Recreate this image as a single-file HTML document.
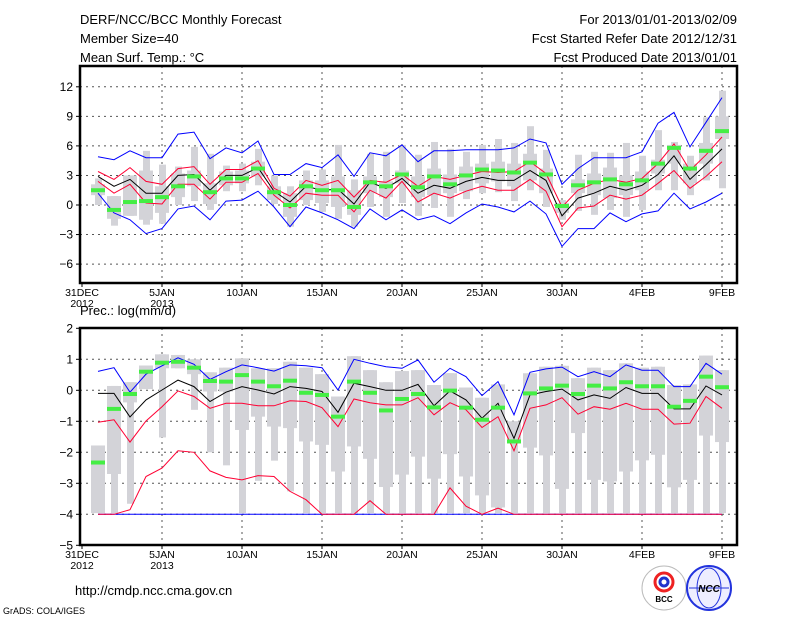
<!DOCTYPE html>
<html><head><meta charset="utf-8"><style>
body{margin:0;background:#fff;width:800px;height:618px;overflow:hidden;font-family:"Liberation Sans",sans-serif}
svg text{font-family:"Liberation Sans",sans-serif;fill:#000}
</style></head><body>
<svg id="chart" width="800" height="618" viewBox="0 0 800 618" xmlns="http://www.w3.org/2000/svg">
<text x="80" y="24" font-size="13">DERF/NCC/BCC Monthly Forecast</text>
<text x="80" y="43" font-size="13">Member Size=40</text>
<text x="80" y="62" font-size="13">Mean Surf. Temp.: °C</text>
<text x="737" y="24" font-size="13" text-anchor="end">For 2013/01/01-2013/02/09</text>
<text x="737" y="43" font-size="13" text-anchor="end">Fcst Started Refer Date 2012/12/31</text>
<text x="737" y="62" font-size="13" text-anchor="end">Fcst Produced Date 2013/01/01</text>
<text x="80" y="315" font-size="13">Prec.: log(mm/d)</text>
<text x="75" y="595" font-size="13">http://cmdp.ncc.cma.gov.cn</text>
<text x="3" y="614" font-size="9">GrADS: COLA/IGES</text>
<g><circle cx="664" cy="588" r="22" fill="#fff" stroke="#bbb"/><circle cx="664" cy="582" r="9" fill="none" stroke="#e22" stroke-width="3"/><circle cx="664" cy="582" r="4" fill="none" stroke="#23c" stroke-width="3"/><text x="664" y="602" font-size="8" text-anchor="middle" font-weight="bold">BCC</text></g>
<g><circle cx="709" cy="588" r="22" fill="#eef" stroke="#23d" stroke-width="2"/><ellipse cx="709" cy="588" rx="12" ry="20" fill="none" stroke="#23d"/><line x1="689" y1="588" x2="729" y2="588" stroke="#23d"/><text x="709" y="592" font-size="10" text-anchor="middle" fill="#23d" font-weight="bold" font-style="italic">NCC</text></g>
</svg>
<script>
// ---- data: day index 1..40 = 2013-01-01 .. 2013-02-09 ----
const xTickLabels=["31DEC","5JAN","10JAN","15JAN","20JAN","25JAN","30JAN","4FEB","9FEB"];
const xTickYears=["2012","2013"];
const tTicks=[12,9,6,3,0,-3,-6];
const pTicks=[2,1,0,-1,-2,-3,-4,-5];
const tMax=[4.9,4.6,5.5,4.8,4.8,7.2,7.4,4.7,5.8,5.3,6.5,3.1,3.1,4.2,3.8,5.1,2.9,5.3,5.0,6.1,4.4,5.5,5.5,5.6,5.6,5.6,5.8,6.7,6.3,2.1,3.7,4.8,4.8,4.8,5.4,8.3,9.4,5.9,8.4,10.9];
const tMin=[1.2,-0.8,-1.5,-2.9,-2.4,-0.4,-0.1,-1.5,0.4,0.5,1.4,-0.2,-2.2,-0.2,-0.8,-1.5,-2.4,-0.4,-1.5,-0.5,-1.5,-1.1,-1.9,-0.8,0.1,-0.2,-0.7,0.4,-0.9,-4.2,-2.4,-2.4,-0.8,-1.7,-0.9,-0.6,1.2,-0.4,0.3,1.2];
const tUp=[3.4,2.6,3.8,2.4,2.1,3.7,3.9,2.1,3.6,3.6,4.5,1.7,0.9,2.5,2.0,2.5,0.8,2.5,2.3,3.1,1.9,2.9,2.6,3.0,3.4,3.3,3.4,4.4,3.2,-0.2,1.5,2.2,2.6,2.3,2.7,4.2,6.2,3.5,5.1,6.9];
const tMean=[2.9,1.9,2.6,1.2,1.2,3.0,3.1,1.5,3.0,3.0,3.8,1.4,0.3,1.9,1.5,1.6,0.1,2.3,1.7,2.7,1.2,2.0,1.7,2.4,2.8,2.5,2.5,3.5,2.5,-1.1,0.7,1.2,1.9,1.5,2.0,3.1,5.0,2.6,4.1,5.7];
const tLow=[2.4,1.2,2.1,0.2,0.1,2.1,2.1,0.6,2.3,2.3,3.2,1.0,-0.3,1.2,1.0,1.0,-0.7,1.5,0.7,2.4,0.3,1.2,0.7,1.4,1.9,1.5,1.5,2.6,1.4,-2.2,-0.3,-0.1,1.0,0.6,1.0,2.2,3.5,1.7,2.9,4.4];
const tMed=[1.5,-0.5,0.3,0.4,0.8,1.9,2.9,1.3,2.7,2.7,3.7,1.3,0.0,1.9,1.5,1.5,-0.2,2.3,1.9,3.1,1.8,2.9,2.1,3.0,3.6,3.5,3.3,4.3,3.1,-0.1,2.0,2.3,2.6,2.1,2.5,4.2,5.8,3.7,5.5,7.5];
const tBoxHi=[2.7,0.9,3.0,5.5,4.1,3.9,5.9,5.2,4.0,4.2,5.7,3.0,1.9,3.5,3.6,6.1,2.6,5.2,5.4,6.1,5.1,6.4,5.7,5.4,6.1,6.7,6.3,8.0,5.6,0.5,5.1,5.4,5.3,6.3,5.0,7.6,6.4,5.0,8.9,11.6];
const tBoxLo=[0,-2.1,-1.1,-2.0,-1.9,0,0.4,-0.5,1.4,1.4,2.0,0.1,-2.2,0,-0.7,-1.4,-2.2,-0.2,-1.2,0.2,-1.1,-0.3,-1.2,0.6,1.2,1.3,0.4,1.5,-0.2,-1.5,-0.6,-1.0,-0.5,-1.2,-0.5,1.5,1.5,1.0,2.5,1.7];
const tQ3=[2.1,0.9,3.0,3.5,1.9,3.2,3.5,2.2,3.4,3.5,4.4,1.9,1.2,2.5,2.5,2.9,1.5,2.9,2.4,3.5,2.9,3.7,3.1,3.9,4.2,4.4,4.2,5.2,3.7,0.2,2.6,3.2,3.8,3.0,3.4,4.6,6.1,4.2,6.3,9.0];
const tQ1=[1.0,-1.4,-1.1,-1.5,-0.8,0.8,1.9,0.1,2.0,2.2,2.9,0.5,-1.2,0.5,0.2,-0.2,-1.0,1.2,0.8,2.2,0.8,1.0,1.2,1.4,2.2,2.4,1.9,2.5,1.2,-0.8,1.2,1.0,0.7,1.0,1.5,3.2,4.2,2.2,4.2,6.7];
const pMax=[0.61,0.73,-0.06,0.52,0.79,1.05,0.84,0.35,0.6,0.82,0.73,0.62,0.82,0.79,0.73,0.01,1.0,0.87,0.76,0.71,0.98,0.26,0.71,0.44,-0.17,0.28,-0.79,0.58,0.69,0.75,0.44,0.6,0.44,0.82,0.65,0.65,0.12,0.12,0.87,0.52];
const pMean=[-0.1,-0.1,-0.86,-0.31,0.01,0.33,0.12,-0.36,-0.06,0.12,0.01,-0.12,0.12,0.06,-0.04,-0.71,0.23,0.12,0,0,0.19,-0.5,-0.02,-0.31,-0.9,-0.42,-1.55,-0.15,-0.04,0.04,-0.31,-0.15,-0.26,0.09,-0.1,-0.1,-0.6,-0.6,0.14,-0.15];
const pUp=[-1.03,-0.95,-1.67,-0.99,-0.53,-0.02,-0.2,-0.58,-0.42,-0.42,-0.5,-0.5,-0.34,-0.36,-0.56,-1.17,-0.28,-0.4,-0.47,-0.47,-0.24,-0.79,-0.4,-0.63,-1.2,-0.85,-1.95,-0.58,-0.47,-0.24,-0.77,-0.53,-0.61,-0.42,-0.61,-0.61,-1.09,-1.06,-0.2,-0.58];
const pLow=[-4,-4,-3.85,-2.78,-2.51,-1.95,-2.0,-2.6,-2.81,-2.89,-2.75,-2.78,-3.26,-3.53,-4,-4,-4,-3.56,-4,-4,-4,-4,-3.15,-3.74,-4,-3.8,-4,-4,-4,-4,-4,-4,-4,-4,-4,-4,-4,-4,-4,-4];
const pMin=[-4,-4,-4,-4,-4,-4,-4,-4,-4,-4,-4,-4,-4,-4,-4,-4,-4,-4,-4,-4,-4,-4,-4,-4,-4,-4,-4,-4,-4,-4,-4,-4,-4,-4,-4,-4,-4,-4,-4,-4];
const pMed=[-2.33,-0.6,-0.12,0.6,0.89,0.92,0.73,0.3,0.28,0.49,0.28,0.13,0.31,-0.08,-0.15,-0.85,0.28,-0.08,-0.65,-0.28,-0.12,-0.55,-0.01,-0.56,-0.95,-0.56,-1.65,-0.1,0.06,0.15,-0.12,0.15,0.06,0.26,0.13,0.13,-0.53,-0.34,0.44,0.1];
const pQ3=[-1.78,0.14,0.26,0.8,1.16,1.14,1.0,0.58,0.73,1.03,0.71,0.71,0.92,0.73,0.52,-0.2,1.1,0.65,0.26,0.62,0.65,0.17,0.55,0.09,-0.24,0.19,-1.0,0.55,0.76,0.79,0.39,0.73,0.65,0.87,0.73,0.76,0.17,0.19,1.12,0.65];
const pQ1=[-3.96,-2.7,-0.39,0.04,0.71,0.71,0.52,-0.04,-0.04,-1.28,-0.85,-1.17,-1.22,-1.65,-1.76,-2.62,-1.81,-2.21,-3.12,-2.72,-2.14,-2.85,-2.06,-2.78,-3.39,-3.78,-1.7,-1.85,-2.1,-3.18,-1.38,-2.89,-2.94,-2.62,-2.26,-2.08,-3.13,-2.89,-1.46,-1.67];
const pBoxLo=[-3.96,-3.96,-3.66,0.04,-1.52,0.71,-0.63,-2.0,-2.42,-3.96,-2.92,-2.27,-3.26,-3.96,-3.96,-3.96,-3.96,-3.96,-3.96,-3.96,-3.96,-3.96,-3.96,-3.96,-3.96,-3.96,-3.96,-3.96,-3.96,-3.96,-3.96,-3.96,-3.96,-3.96,-3.96,-3.96,-3.96,-3.96,-3.96,-3.96];

const NS="http://www.w3.org/2000/svg";
const svg=document.getElementById('chart');
const X0=80,X1=737;
const xs=d=>82+16*d;
const yT=v=>205-9.85*v;
const yP=v=>390.3-31*v;
function mk(tag,attrs,parent){const e=document.createElementNS(NS,tag);for(const k in attrs)e.setAttribute(k,attrs[k]);(parent||svg).appendChild(e);return e;}

function panel(name,top,bot,ys,ticks,boxHi,boxLo,q3,q1,lines,med){
  const g=mk('g',{});
  
  
  ticks.forEach(t=>{const y=ys(t);
    if(y>top+2&&y<bot-2){const l=mk('line',{x1:X0,x2:X1,y1:y,y2:y,stroke:'#555','stroke-dasharray':'2,4','stroke-width':1},g);
    
    }
    const tk=mk('line',{x1:X0-4,x2:X0,y1:y,y2:y,stroke:'#000'},g);
    
    
    const tx=mk('text',{x:X0-7,y:y+4,'font-size':12,'text-anchor':'end'},g);tx.textContent=String(t).replace('-','−');
    
    
  });
  for(let i=1;i<9;i++){const x=xs(i*5);
    const l=mk('line',{x1:x,x2:x,y1:top,y2:bot,stroke:'#555','stroke-dasharray':'2,4'},g);
    
    }
  for(let k=0;k<40;k++){const x=xs(k+1);
    const a=mk('rect',{x:x-3,y:ys(boxHi[k]),width:7,height:Math.max(1,ys(boxLo[k])-ys(boxHi[k])),fill:'#d3d3d8'},g);
    
    
    const b=mk('rect',{x:x-7,y:ys(q3[k]),width:14,height:Math.max(1,ys(q1[k])-ys(q3[k])),fill:'#d3d3d8'},g);
    
    
  }
  lines.forEach(([arr,col,nm])=>{
    const p=mk('polyline',{points:arr.map((v,k)=>xs(k+1)+','+ys(v).toFixed(1)).join(' '),fill:'none',stroke:col,'stroke-width':1},g);
    
    
  });
  med.forEach((v,k)=>{const r=mk('rect',{x:xs(k+1)-7,y:ys(v)-2,width:14,height:4,fill:'#44ee44'},g);
    
    });
  const f=mk('rect',{x:X0,y:top,width:X1-X0,height:bot-top,fill:'none',stroke:'#000','stroke-width':2.5},g);
  
  
  xTickLabels.forEach((s,i)=>{const x=xs(i*5);
    const tk=mk('line',{x1:x,x2:x,y1:bot,y2:bot+4,stroke:'#000'},g);
    
    
    const t=mk('text',{x:x,y:bot+13,'font-size':10.5,'text-anchor':'middle'},g);t.textContent=s;
    
    
    if(i<2){const t2=mk('text',{x:x,y:bot+24,'font-size':10.5,'text-anchor':'middle'},g);t2.textContent=xTickYears[i];
      
      }
  });
}
panel('temperature-panel',66,283,yT,tTicks,tBoxHi,tBoxLo,tQ3,tQ1,
  [[tMax,'#0000ff','max-line'],[tMin,'#0000ff','min-line'],[tUp,'#ff0033','upper-line'],[tLow,'#ff0033','lower-line'],[tMean,'#000','mean-line']],tMed);
panel('precip-panel',328,545,yP,pTicks,pQ3,pBoxLo,pQ3,pQ1,
  [[pMax,'#0000ff','max-line'],[pMin,'#0000ff','min-line'],[pUp,'#ff0033','upper-line'],[pLow,'#ff0033','lower-line'],[pMean,'#000','mean-line']],pMed);
</script>
</body></html>
